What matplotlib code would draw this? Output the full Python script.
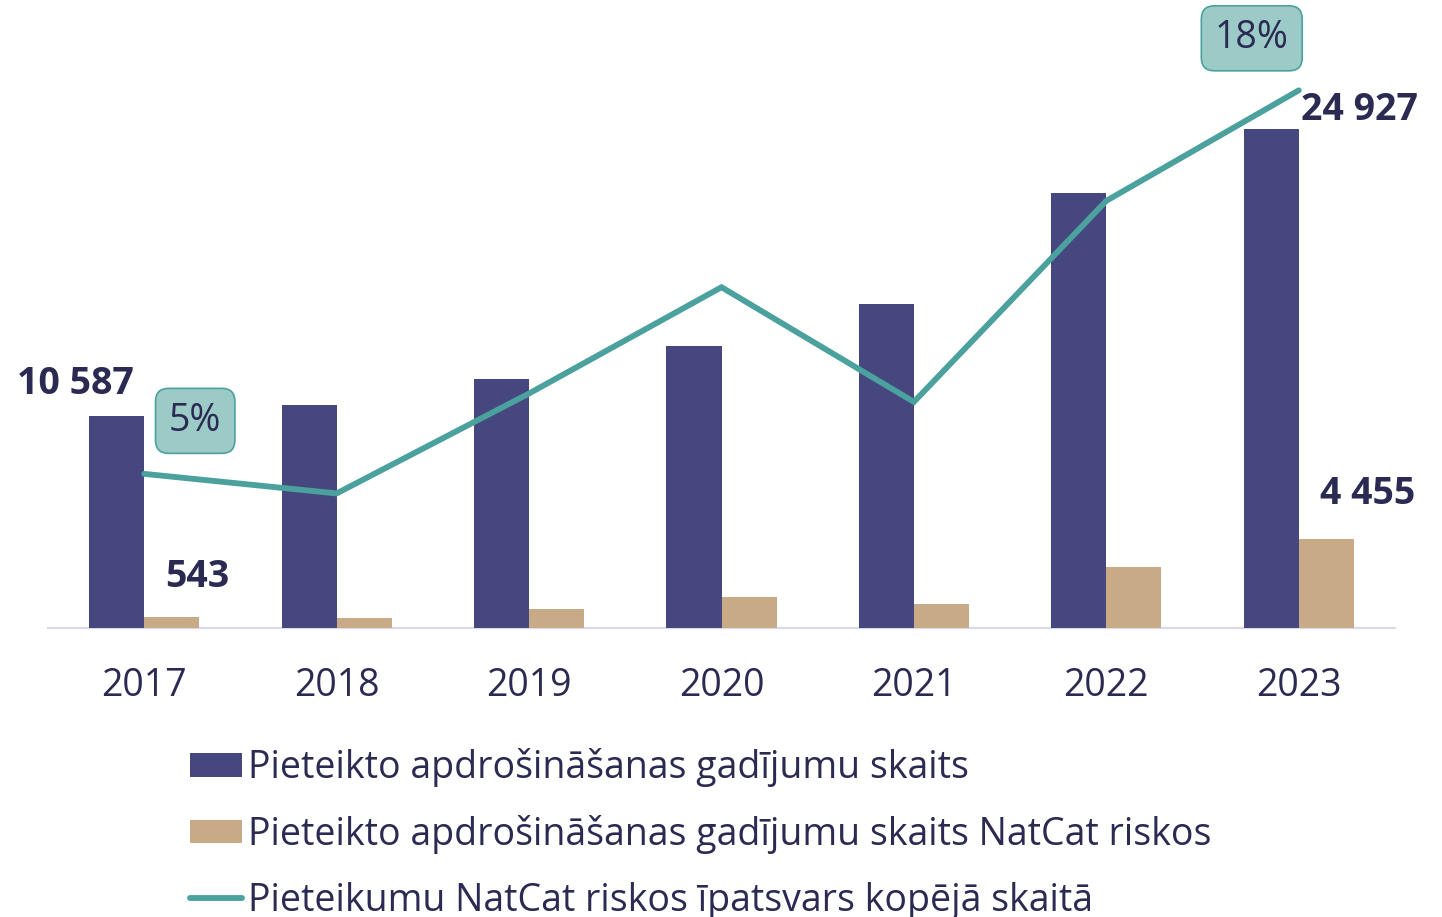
import numpy as np
import matplotlib
matplotlib.use("Agg")
import matplotlib.pyplot as plt

# ── Data ─────────────────────────────────────────────────────────────────────
YEARS = ["2017", "2018", "2019", "2020", "2021", "2022", "2023"]
CLAIMS_TOTAL = [10587, 11170, 12450, 14070, 16210, 21730, 24927]
CLAIMS_NATCAT = [543, 490, 950, 1550, 1200, 3040, 4455]
NATCAT_SHARE = [5.13, 4.48, 7.8, 11.33, 7.52, 14.2, 17.87]

LABELS = [
    "Pieteikto apdrošināšanas gadījumu skaits",
    "Pieteikto apdrošināšanas gadījumu skaits NatCat riskos",
    "Pieteikumu NatCat riskos īpatsvars kopējā skaitā",
]

NAVY = "#46477e"
TAN = "#c9aa87"
TEAL = "#4aa19d"
TEXT = "#2a2a52"
AXIS = "#d9d9ea"
BOX_FILL = "#9ccac7"

plt.rcParams["font.family"] = ["Open Sans", "DejaVu Sans"]

W, H = 1442, 917
FS = 27


def fmt(v):
    return f"{v:,}".replace(",", " ")


def main():
    fig = plt.figure(figsize=(W / 100, H / 100), dpi=100)
    base_y = 628.3
    ax = fig.add_axes([48 / W, 1 - base_y / H, 1347 / W, base_y / H])
    ax2 = ax.twinx()

    x = np.arange(len(YEARS))
    width = 0.286

    b1 = ax.bar(x - width / 2, CLAIMS_TOTAL, width, color=NAVY, zorder=3)
    b2 = ax.bar(x + width / 2, CLAIMS_NATCAT, width, color=TAN, zorder=3)
    line, = ax2.plot(x, NATCAT_SHARE, color=TEAL, lw=4.2,
                     solid_capstyle="round", solid_joinstyle="miter")

    ax.set_xlim(-0.5, len(YEARS) - 0.5)
    ax.set_ylim(0, 31368)
    ax2.set_ylim(0, 20.87)

    for a in (ax, ax2):
        for s in a.spines.values():
            s.set_visible(False)
        a.set_yticks([])
    ax.spines["bottom"].set_visible(True)
    ax.spines["bottom"].set_color(AXIS)
    ax.spines["bottom"].set_linewidth(1.6)

    ax.set_xticks(x)
    ax.set_xticklabels(YEARS, fontsize=FS, color=TEXT)
    ax.tick_params(axis="x", length=0, pad=28)

    # value labels for first and last year
    lab = dict(fontsize=FS, fontweight="bold", color=TEXT,
               textcoords="offset pixels", va="center", zorder=5)
    ax.annotate(fmt(CLAIMS_TOTAL[0]), (x[0] - width / 2, CLAIMS_TOTAL[0]),
                xytext=(-41, 32), ha="center", **lab)
    ax.annotate(fmt(CLAIMS_NATCAT[0]), (x[0] + width / 2, CLAIMS_NATCAT[0]),
                xytext=(26, 40), ha="center", **lab)
    ax.annotate(fmt(CLAIMS_TOTAL[-1]), (x[-1] - width / 2, CLAIMS_TOTAL[-1]),
                xytext=(30, 19), ha="left", **lab)
    ax.annotate(fmt(CLAIMS_NATCAT[-1]), (x[-1] + width / 2, CLAIMS_NATCAT[-1]),
                xytext=(41, 45), ha="center", **lab)

    # share boxes
    box = dict(boxstyle="round,pad=0.36,rounding_size=0.35", fc=BOX_FILL,
               ec=TEAL, lw=1.2)
    ax2.annotate(f"{NATCAT_SHARE[0]:.0f}%", (x[0], NATCAT_SHARE[0]),
                 xytext=(51, 53), textcoords="offset pixels", ha="center",
                 va="center", fontsize=FS, color=TEXT, bbox=box, zorder=6)
    ax2.annotate(f"{NATCAT_SHARE[-1]:.0f}%", (x[-1], NATCAT_SHARE[-1]),
                 xytext=(-47, 52), textcoords="offset pixels", ha="center",
                 va="center", fontsize=FS, color=TEXT, bbox=box, zorder=6)

    fig.legend([b1, b2, line], LABELS, loc="upper left",
               bbox_to_anchor=(190 / W, 1 - 748 / H), frameon=False,
               fontsize=FS, labelcolor=TEXT, borderpad=0, borderaxespad=0,
               handlelength=1.38, handleheight=0.6, handletextpad=0.18,
               labelspacing=0.74)

    fig.savefig("out.png", dpi=100)
    plt.close(fig)


if __name__ == "__main__":
    main()
